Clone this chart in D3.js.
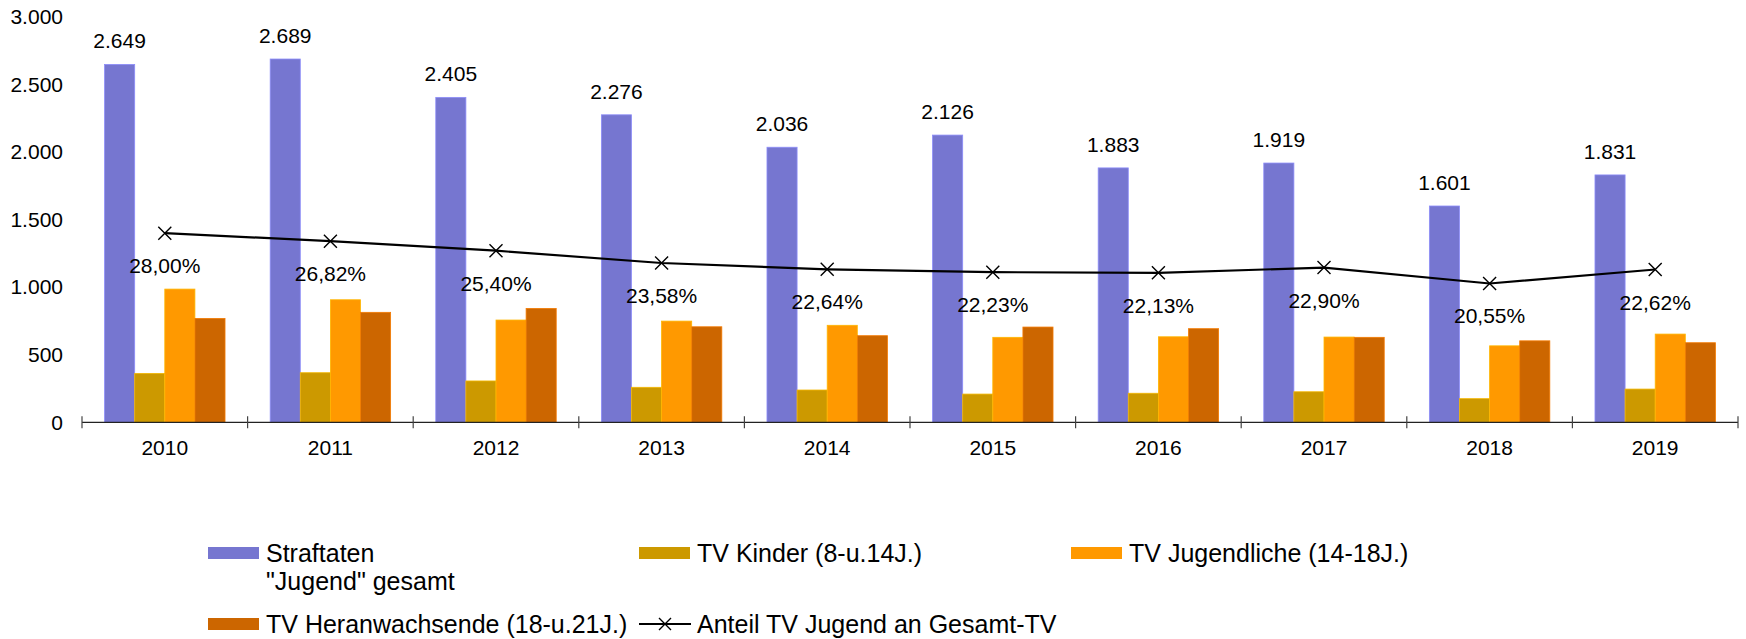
<!DOCTYPE html>
<html lang="de">
<head>
  <meta charset="UTF-8">
  <title>Straftaten Jugend 2010-2019</title>
  <script src="https://d3js.org/d3.v7.min.js"></script>
  <style>
    html, body { margin: 0; padding: 0; background: #fff; overflow: hidden; }
    svg { display: block; }
    text { font-family: "Liberation Sans", Arial, sans-serif; fill: #000; }
    .axis text { font-size: 21px; }
    .lbl { font-size: 21px; }
    .legend text { font-size: 25px; }
  </style>
</head>
<body>
  <svg id="chart" width="1746" height="639"></svg>
  <script>
  // data
  const years = ["2010", "2011", "2012", "2013", "2014", "2015", "2016", "2017", "2018", "2019"];
  const straftaten   = [2649, 2689, 2405, 2276, 2036, 2126, 1883, 1919, 1601, 1831];
  const tvKinder     = [362, 367, 306, 259, 239, 209, 215, 226, 175, 246];
  const tvJugend     = [986, 907, 757, 749, 718, 629, 633, 631, 566, 653];
  const tvHeran      = [769, 814, 843, 707, 641, 705, 693, 629, 603, 589];
  const anteil       = [28.00, 26.82, 25.40, 23.58, 22.64, 22.23, 22.13, 22.90, 20.55, 22.62];
  const yTicks       = [0, 500, 1000, 1500, 2000, 2500, 3000];

  const seriesNames  = ["Straftaten", "TV Kinder (8-u.14J.)", "TV Jugendliche (14-18J.)", "TV Heranwachsende (18-u.21J.)"];
  const seriesValues = [straftaten, tvKinder, tvJugend, tvHeran];
  const seriesColors = ["#7676d0", "#cc9900", "#ff9900", "#cc6600"];
  const lineName = "Anteil TV Jugend an Gesamt-TV";

  const de = d3.formatLocale({ decimal: ",", thousands: ".", grouping: [3], currency: ["", "€"] });
  const fmtInt = de.format(",d");
  const fmtPct = v => de.format(".2f")(v) + "%";

  const svg = d3.select("#chart");
  const plotL = 82, plotR = 1738, plotT = 17, plotB = 422.3;

  const x = d3.scaleBand().domain(years).range([plotL, plotR]).padding(0);
  const xs = d3.scaleBand().domain(d3.range(4)).range([0, x.bandwidth()])
    .paddingInner(0).paddingOuter(0.75);
  const y = d3.scaleLinear().domain([0, 3000]).range([plotB, plotT]);
  const y2 = d3.scaleLinear().domain([0, 60]).range([plotB, plotT]);

  // y axis (labels only)
  const yAxis = svg.append("g").attr("class", "axis")
    .attr("transform", `translate(${plotL},0)`)
    .call(d3.axisLeft(y).tickValues(yTicks).tickSize(0).tickPadding(19).tickFormat(fmtInt));
  yAxis.select(".domain").remove();
  yAxis.selectAll("text").attr("fill", "#000");

  // bars
  const groups = svg.append("g").selectAll("g")
    .data(years)
    .join("g")
    .attr("transform", d => `translate(${x(d)},0)`);

  groups.selectAll("rect")
    .data((d, i) => seriesValues.map((vals, s) => ({ s, v: vals[i] })))
    .join("rect")
    .attr("x", d => xs(d.s))
    .attr("width", xs.bandwidth())
    .attr("y", d => y(d.v))
    .attr("height", d => y(0) - y(d.v))
    .attr("fill", d => seriesColors[d.s])
    .attr("stroke", d => d3.color(seriesColors[d.s]).brighter(0.5))
    .attr("stroke-width", 0.8);

  // value labels above Straftaten bars
  groups.append("text")
    .attr("class", "lbl")
    .attr("text-anchor", "middle")
    .attr("x", xs(0) + xs.bandwidth() / 2)
    .attr("y", (d, i) => y(straftaten[i]) - 16)
    .text((d, i) => fmtInt(straftaten[i]));

  // x axis
  const xAxis = svg.append("g").attr("class", "axis");
  xAxis.append("line")
    .attr("x1", plotL).attr("x2", plotR)
    .attr("y1", plotB).attr("y2", plotB)
    .attr("stroke", "#222").attr("stroke-width", 1.2);
  const bounds = years.map(d => x(d)).concat([plotR]);
  xAxis.selectAll(".tk")
    .data(bounds)
    .join("line")
    .attr("class", "tk")
    .attr("x1", d => d).attr("x2", d => d)
    .attr("y1", plotB - 6).attr("y2", plotB + 6)
    .attr("stroke", "#444").attr("stroke-width", 1.2);
  xAxis.selectAll(".yr")
    .data(years)
    .join("text")
    .attr("class", "yr")
    .attr("text-anchor", "middle")
    .attr("x", d => x(d) + x.bandwidth() / 2)
    .attr("y", 455)
    .text(d => d);

  // share line (secondary scale, hidden)
  const pts = years.map((d, i) => [x(d) + x.bandwidth() / 2, y2(anteil[i])]);
  svg.append("path")
    .attr("d", d3.line()(pts))
    .attr("fill", "none")
    .attr("stroke", "#000")
    .attr("stroke-width", 2.2);

  const cross = (sel, r) => sel.append("path")
    .attr("d", `M${-r},${-r}L${r},${r}M${-r},${r}L${r},${-r}`)
    .attr("stroke", "#000").attr("stroke-width", 1.4).attr("fill", "none");

  const marks = svg.append("g").selectAll("g")
    .data(pts)
    .join("g")
    .attr("transform", d => `translate(${d[0]},${d[1]})`);
  cross(marks, 6.5);

  svg.append("g").selectAll("text")
    .data(pts)
    .join("text")
    .attr("class", "lbl")
    .attr("text-anchor", "middle")
    .attr("x", d => d[0])
    .attr("y", d => d[1] + 40)
    .text((d, i) => fmtPct(anteil[i]));

  // legend
  const legend = svg.append("g").attr("class", "legend");
  const colX = [208, 639, 1071];
  const rowY = [553, 624];
  const items = [
    { type: "rect", c: 0, r: 0, color: seriesColors[0], lines: [seriesNames[0], "\"Jugend\" gesamt"] },
    { type: "rect", c: 1, r: 0, color: seriesColors[1], lines: [seriesNames[1]] },
    { type: "rect", c: 2, r: 0, color: seriesColors[2], lines: [seriesNames[2]] },
    { type: "rect", c: 0, r: 1, color: seriesColors[3], lines: [seriesNames[3]] },
    { type: "line", c: 1, r: 1, color: "#000", lines: [lineName] }
  ];
  items.forEach(it => {
    const g = legend.append("g").attr("transform", `translate(${colX[it.c]},${rowY[it.r]})`);
    if (it.type === "rect") {
      g.append("rect").attr("x", 0).attr("y", -6).attr("width", 51).attr("height", 12).attr("fill", it.color);
    } else {
      g.append("line").attr("x1", 0).attr("x2", 52).attr("y1", 0).attr("y2", 0)
        .attr("stroke", "#000").attr("stroke-width", 2);
      cross(g.append("g").attr("transform", "translate(26,0)"), 6);
    }
    const t = g.append("text").attr("x", 58).attr("y", 9);
    it.lines.forEach((s, k) => {
      t.append("tspan").attr("x", 58).attr("dy", k === 0 ? 0 : 28.4).text(s);
    });
  });
  </script>
</body>
</html>
